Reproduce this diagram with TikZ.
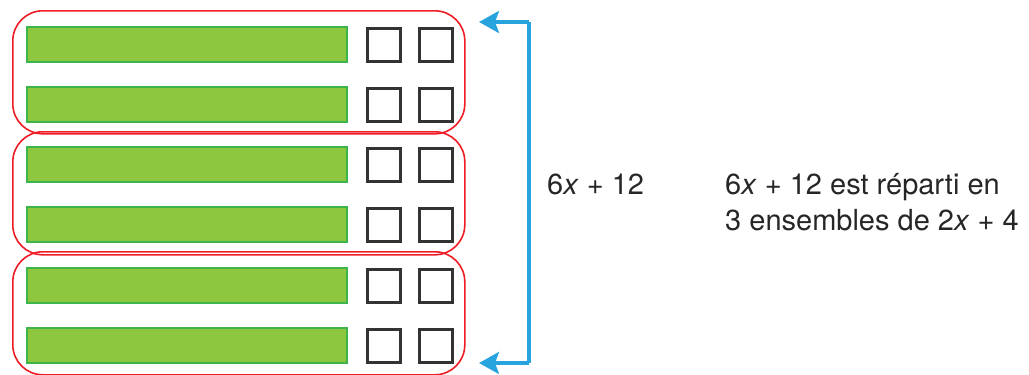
\documentclass[tikz,border=0pt]{standalone}
\usepackage{fontspec}
\setmainfont{TeX Gyre Heros}
\usetikzlibrary{arrows.meta}
\definecolor{barfill}{HTML}{8DC63F}
\definecolor{barline}{HTML}{3DB54A}
\definecolor{grpred}{HTML}{EE1C25}
\definecolor{boxgray}{HTML}{333333}
\definecolor{arrblue}{HTML}{27A3DD}
\tikzset{
  bar/.style={draw=barline, line width=1.5pt, fill=barfill, minimum width=320pt, minimum height=35pt, inner sep=0pt, anchor=north west},
  unitbox/.style={draw=boxgray, line width=2.5pt, minimum size=33pt, inner sep=0pt, anchor=north west},
  group/.style={draw=grpred, line width=1.6pt, rounded corners=30pt, minimum width=452pt, minimum height=123pt, inner sep=0pt, anchor=north west},
  label/.style={font=\fontsize{29}{36}\selectfont, inner sep=0pt, anchor=base west, text=black!85},
  sumarrow/.style={draw=arrblue, line width=3.5pt, -{Stealth[length=20pt, width=22pt, inset=4pt]}}
}
\begin{document}
\begin{tikzpicture}[x=1pt, y=-1pt]
  \useasboundingbox (0,0) rectangle (1029,375);
  % bars and unit squares, six rows
  \foreach \i/\t in {1/26, 2/86, 3/146, 4/206, 5/267, 6/327} {
    \node[bar] (b\i) at (26,\t) {};
    \node[unitbox] (u\i) at (366,\t+1) {};
    \node[unitbox] (v\i) at (418,\t+1) {};
  }
  % the three groups of two rows
  \node[group] (g1) at (12,10) {};
  \node[group] (g2) at (12,131) {};
  \node[group] (g3) at (12,251) {};
  % bracket arrows
  \coordinate (atop) at (479,22);
  \coordinate (abot) at (479,363);
  \coordinate (ctop) at (529,22);
  \coordinate (cbot) at (529,363);
  \draw[sumarrow] (ctop) -- (atop);
  \draw[sumarrow] (cbot) -- (abot);
  \draw[draw=arrblue, line width=3.5pt] (ctop) -- (cbot);
  % labels
  \node[label] (total) at (547,194) {6\textit{x} + 12};
  \node[label] (expl1) at (725,194) {6\textit{x} + 12 est réparti en};
  \node[label] (expl2) at (725,230) {3 ensembles de 2\textit{x} + 4};
\end{tikzpicture}
\end{document}
